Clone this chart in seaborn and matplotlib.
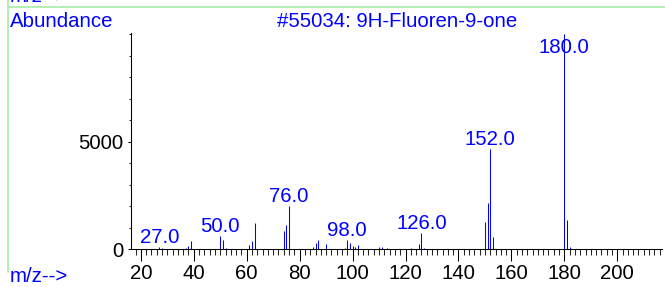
import numpy as np
import matplotlib
matplotlib.use("Agg")
import matplotlib.pyplot as plt
from matplotlib.lines import Line2D
from matplotlib.ticker import MultipleLocator
import seaborn as sns

# spectrum of #55034
mz = [27, 28, 37, 38, 39, 40, 49, 50, 51, 52, 53, 61, 62, 63, 74, 75, 76, 78,
      85, 86, 87, 88, 90, 97, 98, 99, 100, 101, 102, 109, 110, 111, 113,
      122, 124, 125, 126, 127, 150, 151, 152, 153, 154, 180, 181, 182]
abundance = [93, 62, 62, 155, 380, 30, 30, 620, 434, 46, 20, 186, 387, 1208,
             868, 1115, 2014, 30, 93, 310, 434, 30, 248, 62, 434, 310, 155,
             124, 186, 30, 93, 93, 62, 62, 30, 248, 775, 46, 1285, 2160, 4647,
             587, 30, 9999, 1361, 93]
labelled = [27, 50, 76, 98, 126, 152, 180]
title = "#55034: 9H-Fluoren-9-one"

sns.set_theme(style="ticks")
plt.rcParams["font.family"] = ["Liberation Sans", "DejaVu Sans"]

W, H = 665, 287
fig = plt.figure(figsize=(W / 100, H / 100), dpi=100)
ax = fig.add_axes([131 / W, 1 - 249.3 / H, (662 - 131) / W, (249.3 - 33) / H])

blue = "#0000ff"
fs = 14.7

ax.vlines(mz, 0, abundance, color=blue, lw=0.75)

# peak labels, kept inside the frame for the tallest one
for m in labelled:
    h = abundance[mz.index(m)]
    ax.annotate(f"{m:.1f}", (m, min(h, 8920)), xytext=(0, 2.9),
                textcoords="offset points", ha="center", va="baseline",
                color=blue, fontsize=fs)

ax.set_xlim(16.3, 216.9)
ax.set_ylim(0, 10050)
ax.xaxis.set_major_locator(MultipleLocator(20))
ax.xaxis.set_minor_locator(MultipleLocator(2))
ax.set_xticks(np.arange(20, 201, 20))
ax.yaxis.set_major_locator(MultipleLocator(5000))
ax.yaxis.set_minor_locator(MultipleLocator(1000))
ax.set_yticks([0, 5000])

sns.despine(ax=ax)
for s in ["left", "bottom"]:
    ax.spines[s].set_linewidth(0.75)
    ax.spines[s].set_color("black")

ax.tick_params(axis="x", which="major", length=8.3, width=0.75, pad=2.3,
               labelsize=fs, colors="black")
ax.tick_params(axis="x", which="minor", length=4, width=0.75)
ax.tick_params(axis="y", which="major", length=2.5, width=0.75, pad=3.2,
               labelsize=fs, colors="black")
ax.tick_params(axis="y", which="minor", length=1.5, width=0.75)
ax.set_xlabel("")
ax.set_ylabel("")

# header / footer texts
fig.text(10 / W, 1 - 27 / H, "Abundance", color=blue, fontsize=fs,
         ha="left", va="baseline")
fig.text(397 / W, 1 - 27 / H, title, color=blue, fontsize=fs,
         ha="center", va="baseline")
fig.text(10 / W, 1 - 282 / H, "m/z-->", color=blue, fontsize=fs,
         ha="left", va="baseline")
fig.text(10 / W, 1 - 2.5 / H, "m/z-->", color=blue, fontsize=fs,
         ha="left", va="baseline")

# light green panel frame
green = "#a8eca8"
fig.add_artist(Line2D([8 / W, 1], [1 - 6.5 / H, 1 - 6.5 / H],
                      color=green, lw=1.2, transform=fig.transFigure))
fig.add_artist(Line2D([8 / W, 8 / W], [1, 1 - 272 / H],
                      color=green, lw=1.2, transform=fig.transFigure))

fig.savefig("out.png", dpi=100)
